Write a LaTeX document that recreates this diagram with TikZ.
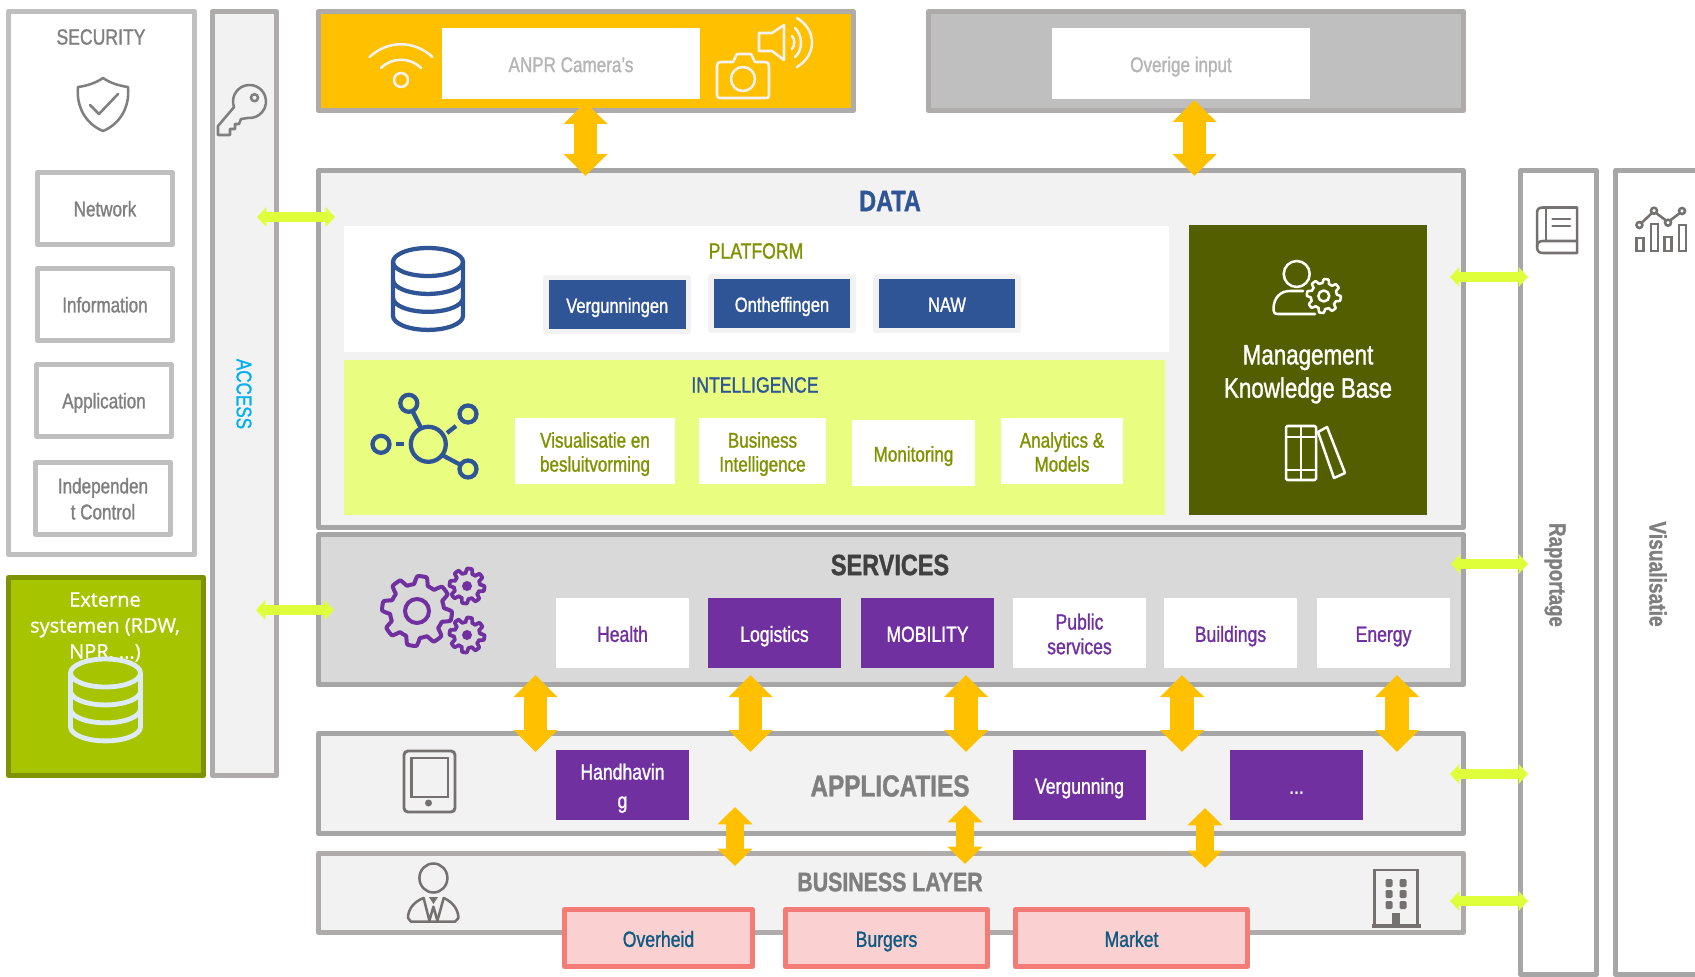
\documentclass[tikz,border=0pt]{standalone}
\usepackage{fontspec}
\usetikzlibrary{arrows.meta}
\setmainfont{Liberation Sans}[FakeStretch=0.8,FakeBold=1.2]
\newfontfamily\extfont{Open Sans}[FakeBold=1]
\definecolor{cBorder}{HTML}{A6A6A6}
\definecolor{cBorderW}{HTML}{AFABAB}
\definecolor{cSec}{HTML}{BFBFBF}
\definecolor{cSecT}{HTML}{B5B5B5}
\definecolor{cPanel}{HTML}{F2F2F2}
\definecolor{cServ}{HTML}{D9D9D9}
\definecolor{cAmber}{HTML}{FFC000}
\definecolor{cLime}{HTML}{DFFF3A}
\definecolor{cBlue}{HTML}{2F5597}
\definecolor{cPurple}{HTML}{7030A0}
\definecolor{cOlive}{HTML}{7F9300}
\definecolor{cDark}{HTML}{525E00}
\definecolor{cPale}{HTML}{E9FE80}
\definecolor{cExt}{HTML}{A6C400}
\definecolor{cExtB}{HTML}{7F9300}
\definecolor{cIcon}{HTML}{767171}
\definecolor{cGrayT}{HTML}{7F7F7F}
\definecolor{cSalB}{HTML}{F47C76}
\definecolor{cSal}{HTML}{FAD1D0}
\definecolor{cTeal}{HTML}{0F5A82}
\definecolor{cDB}{HTML}{DEEBF7}
\definecolor{cSky}{HTML}{00B0F0}
\tikzset{
  base/.style={inner sep=0pt,outer sep=0pt,align=center,line join=round},
  sz/.style 2 args={font=\fontsize{#1}{#2}\selectfont},
  panel/.style={base,draw=#1,line width=3.75pt},
  secbox/.style={panel=cSec,fill=white,text=cGrayT,sz={16}{19.5}},
  whitebox/.style={base,fill=white},
  bluebtn/.style={base,fill=cBlue,draw=cPanel,line width=4pt,text=white,sz={15.5}{18}},
  intbtn/.style={base,fill=white,text=cOlive,sz={16}{18}},
  purplebtn/.style={base,fill=cPurple,text=white,sz={16.5}{20}},
  whitebtn/.style={base,fill=white,text=cPurple,sz={16.5}{18.5}},
  salbtn/.style={panel=cSalB,fill=cSal,text=cTeal,sz={16.5}{20}},
  title/.style={base},
  amberbig/.style={draw=cAmber,line width=17.5pt,{Triangle[length=16.5pt,width=32pt]}-{Triangle[length=16.5pt,width=32pt]}},
  ambersmall/.style={draw=cAmber,line width=13pt,{Triangle[length=13pt,width=25.5pt]}-{Triangle[length=13pt,width=25.5pt]}},
  limearrow/.style={draw=cLime,line width=7.5pt,{Triangle[length=7pt,width=14.5pt]}-{Triangle[length=7pt,width=14.5pt]}},
  iconline/.style={line width=1.9pt,line join=round,line cap=round},
}
\newcommand\bx[7][]{\node[#1,minimum width={(#5-#3)*0.75pt},minimum height={(#6-#4)*0.75pt}] (#2) at ({(#3+#5)/2},{(#4+#6)/2}) {#7};}
% one line of text centred on its capitals, ignoring descenders
\newcommand\ls[1]{\smash{#1}\rule{0pt}{\dimexpr.72em+1.4pt\relax}}
\newcommand\lz[1]{\smash{#1}\rule{0pt}{\dimexpr.72em+.3pt\relax}}
% database icon: colour, width in pt, centre x, top y, half width, ring height, fill
\newcommand\dbicon[7]{%
  \begin{scope}[shift={(#3,#4)},draw=#1,line width=#2]
    \draw[fill=#7] (0,0) ellipse[x radius=#5,y radius=#6];
    \draw (-#5,0) -- (-#5,#6*3.85) arc[start angle=180,end angle=0,x radius=#5,y radius=#6] -- (#5,0);
    \draw (-#5,#6*1.28) arc[start angle=180,end angle=0,x radius=#5,y radius=#6];
    \draw (-#5,#6*2.56) arc[start angle=180,end angle=0,x radius=#5,y radius=#6];
  \end{scope}}
% gear: colour, width, x, y, outer r, inner r
\newcommand\gearicon[6]{%
  \draw[#1,line width=#2,line join=round] plot[domain=0:360,samples=193,shift={(#3,#4)}] (\x:{#6+(#5-#6)*(0.5+0.5*max(-1,min(1,2.2*sin(8*\x+22))))}) -- cycle;}
\begin{document}
\begin{tikzpicture}[x=0.75pt,y=-0.75pt]
\useasboundingbox (0,0) rectangle (1695,977);
% left column
\bx[panel=cSec]{security}{8.5}{11.5}{194.5}{554.5}{}
\node[title,text=cGrayT,sz={16.5}{20}] (sectitle) at (101,37) {SECURITY};
\bx[secbox]{network}{37.5}{172.5}{172.5}{244.5}{\lz{Network}}
\bx[secbox]{information}{37.5}{268.5}{172.5}{340.5}{\lz{Information}}
\bx[secbox]{application}{36.5}{364.5}{171.5}{436.5}{\lz{Application}}
\bx[secbox]{independent}{35.5}{462.5}{170.5}{534.5}{\lz{Independen}\\\lz{t Control}}
\bx[panel=cExtB,fill=cExt]{externe}{8.5}{577.5}{203.5}{775.5}{}
\node[base,text=white,font=\extfont\fontsize{15}{19.5}\selectfont] (extlabel) at (105,627) {Externe\\systemen (RDW,\\NPR, ...)};
\bx[panel=cBorderW,fill=cPanel]{access}{212.5}{11.5}{276.5}{775.5}{}
\node[title,rotate=-90,text=cSky,sz={16}{20}] (acctitle) at (244,394) {ACCESS};
% top row
\bx[panel=cBorderW,fill=cAmber]{anpr}{318.5}{11.5}{853.5}{110.5}{}
\bx[whitebox,text=cSecT,sz={16}{20}]{anprtext}{442}{28}{700}{99}{\ls{ANPR Camera’s}}
\bx[panel=cBorderW,fill=cSec]{overige}{928.5}{11.5}{1463.5}{110.5}{}
\bx[whitebox,text=cSecT,sz={16}{20}]{overtext}{1052}{28}{1310}{99}{\ls{Overige input}}
% right columns
\bx[panel=cBorder,fill=white]{rapport}{1520.5}{170.5}{1596.5}{974.5}{}
\node[title,rotate=-90,text=cGrayT,sz={17.5}{20}] (raptitle) at (1555,575) {\bfseries Rapportage};
\bx[panel=cBorder,fill=white]{visual}{1615.5}{170.5}{1740}{974.5}{}
\node[title,rotate=-90,text=cGrayT,sz={18}{20}] (vistitle) at (1658,574) {\bfseries Visualisatie};
% data
\bx[panel=cBorder,fill=cPanel]{data}{318.5}{170.5}{1463.5}{527.5}{}
\node[title,text=cBlue,sz={22}{24}] (datatitle) at (890,201) {\bfseries DATA};
\bx[whitebox]{platform}{344}{226}{1169}{352}{}
\node[title,text=cOlive,sz={16.5}{20}] (plattitle) at (756,251) {PLATFORM};
\bx[bluebtn]{verg}{546}{277.5}{688.5}{331.5}{\ls{Vergunningen}}
\bx[bluebtn]{onth}{711}{276.5}{853}{330.5}{\ls{Ontheffingen}}
\bx[bluebtn]{naw}{876}{276.5}{1018}{330.5}{\ls{NAW}}
\bx[base,fill=cPale]{intel}{344}{360}{1165}{515}{}
\node[title,text=cBlue,sz={16.5}{20}] (inttitle) at (755,385) {INTELLIGENCE};
\bx[intbtn]{visbtn}{515}{418}{675}{484}{\ls{Visualisatie en}\\\ls{besluitvorming}}
\bx[intbtn]{bibtn}{699}{418}{826}{484}{\ls{Business}\\\ls{Intelligence}}
\bx[intbtn]{monbtn}{852}{420}{975}{486}{\ls{Monitoring}}
\bx[intbtn]{anabtn}{1001}{418}{1123}{484}{\ls{Analytics \&}\\\ls{Models}}
\bx[base,fill=cDark,text=white,sz={21}{25}]{mgmt}{1189}{225}{1427}{515}{\ls{Management}\\\ls{Knowledge Base}}
% services
\bx[panel=cBorder,fill=cServ]{services}{318.5}{534.5}{1463.5}{684.5}{}
\node[title,text=black!75,sz={22}{24}] (servtitle) at (890,565) {\bfseries SERVICES};
\bx[whitebtn]{health}{556}{598}{689}{668}{\ls{Health}}
\bx[purplebtn]{logistics}{708}{598}{841}{668}{\ls{Logistics}}
\bx[purplebtn]{mobility}{861}{598}{994}{668}{\ls{MOBILITY}}
\bx[whitebtn]{public}{1013}{598}{1146}{668}{\ls{Public}\\\ls{services}}
\bx[whitebtn]{buildings}{1164}{598}{1297}{668}{\ls{Buildings}}
\bx[whitebtn]{energy}{1317}{598}{1450}{668}{\ls{Energy}}
% applications
\bx[panel=cBorder,fill=cPanel]{apps}{318.5}{733.5}{1463.5}{833.5}{}
\node[title,text=cGrayT,sz={22.8}{26}] (apptitle) at (890,786) {\bfseries APPLICATIES};
\bx[purplebtn,sz={16.5}{21.5}]{handh}{556}{750}{689}{820}{\ls{Handhavin}\\\ls{g}}
\bx[purplebtn]{vergapp}{1013}{750}{1146}{820}{\ls{Vergunning}}
\bx[purplebtn]{dots}{1230}{750}{1363}{820}{\ls{...}}
% business
\bx[panel=cBorderW,fill=cPanel]{business}{318.5}{853.5}{1463.5}{932.5}{}
\node[title,text=cGrayT,sz={20}{26}] (bustitle) at (890,882) {\bfseries BUSINESS LAYER};
\bx[salbtn]{overheid}{564.5}{909.5}{752.5}{966.5}{\ls{Overheid}}
\bx[salbtn]{burgers}{785.5}{909.5}{987.5}{966.5}{\ls{Burgers}}
\bx[salbtn]{market}{1015.5}{909.5}{1247.5}{966.5}{\ls{Market}}
% icons: security shield
\draw[cGrayT,iconline] (103,78) .. controls (110,83) and (120,86) .. (128,87) .. controls (130,107) and (120,124) .. (103,131) .. controls (86,124) and (76,107) .. (78,87) .. controls (86,86) and (96,83) .. (103,78) -- cycle;
\draw[cGrayT,iconline] (90,105) -- (99,114) -- (118,94);
% key
\draw[cGrayT,iconline] ([shift={(160:16.5)}]249.5,101.5) arc[start angle=160,end angle=455,radius=16.5] -- (241,119) -- (239,124) -- (235,124) -- (235,129) -- (230,129) -- (230,135) -- (218,135) -- (218,126) -- cycle;
\draw[cGrayT,line width=1.9pt] (254.5,97.7) circle[radius=3.5];
% wifi
\draw[cPanel,iconline] (369.5,57) .. controls (388,40) and (414,40) .. (432.5,57);
\draw[cPanel,iconline] (381,68) .. controls (392,57) and (410,57) .. (421,68);
\draw[cPanel,iconline] (401,80) circle[radius=7];
% camera
\draw[cPanel,iconline] (721,62) -- (733,62) -- (737,54) -- (751,54) -- (755,62) -- (765,62) .. controls (768,62) and (769,63) .. (769,66) -- (769,95) .. controls (769,98) and (768,98) .. (765,98) -- (721,98) .. controls (718,98) and (717,98) .. (717,95) -- (717,66) .. controls (717,63) and (718,62) .. (721,62) -- cycle;
\draw[cPanel,iconline] (743,79) circle[radius=12];
% speaker
\draw[cPanel,iconline] (759,33) -- (772,33) -- (784,25) -- (784,60) -- (772,51) -- (759,51) -- cycle;
\draw[cPanel,iconline] (792,36) .. controls (795,39) and (795,46) .. (792,49);
\draw[cPanel,iconline] (795,28) .. controls (803,36) and (803,50) .. (795,57);
\draw[cPanel,iconline] (797,18) .. controls (817,30) and (817,55) .. (797,67);
% databases
\dbicon{cBlue}{3.2pt}{428}{262}{35}{14}{none}
\dbicon{cDB}{3.6pt}{105.5}{673}{35}{14}{cExt}
% network icon
\begin{scope}[cBlue,line width=3.2pt]
\draw (428.3,444.3) circle[radius=17.5];
\draw (408.8,403.3) circle[radius=8.5];
\draw (468,414) circle[radius=8.5];
\draw (381,444.3) circle[radius=8.5];
\draw (468,469) circle[radius=8.5];
\draw (412.5,411) -- (421,428);
\draw (447,433) -- (456,426);
\draw (396,444.3) -- (404,444.3);
\draw (442,455) -- (459,464);
\end{scope}
% management icon
\draw[white,iconline] (1296.7,274) circle[radius=13];
\draw[white,iconline] (1315,314) -- (1278,314) .. controls (1274,314) and (1273.5,312) .. (1273.5,308) .. controls (1274,298) and (1280,291) .. (1290,291) -- (1303,291);
\gearicon{white}{1.9pt}{1323.8}{296}{17}{13}
\draw[white,iconline] (1323.8,296) circle[radius=5.5];
% books
\draw[white,iconline,rounded corners=1pt] (1286,426) rectangle (1316,480);
\draw[white,iconline] (1301,426) -- (1301,480) (1286,437) -- (1316,437) (1286,470) -- (1316,470);
\draw[white,iconline] (1318,432) -- (1327,427) -- (1345,473) -- (1334,478) -- cycle;
% gears
\gearicon{cPurple}{3pt}{417}{611}{35}{27}
\draw[cPurple,line width=3pt] (417,611) circle[radius=12];
\gearicon{cPurple}{2.8pt}{467}{586}{17.5}{13}
\fill[cPurple] (467,586) circle[radius=5];
\gearicon{cPurple}{2.8pt}{467}{635}{17.5}{13}
\fill[cPurple] (467,635) circle[radius=5];
% tablet
\draw[cIcon,line width=2.2pt,rounded corners=3pt] (404,751) rectangle (455,812);
\draw[cIcon,line width=2.2pt] (411.5,758) rectangle (448,797);
\fill[cIcon] (428.5,803) circle[radius=3.5];
% person
\draw[cIcon,iconline] (433.4,878) ellipse[x radius=14,y radius=14.5];
\draw[cIcon,iconline] (423.6,898) .. controls (413,902) and (408,910) .. (408,918) -- (411,921.7) -- (455,921.7) -- (458.4,918) .. controls (458.4,910) and (453,902) .. (443.7,898);
\draw[cIcon,iconline] (423.6,898) -- (429.4,920.7) -- (433.4,906.7) -- (437.4,920.7) -- (443.7,898);
\fill[cIcon] (429,897) -- (438,897) -- (433.4,904) -- cycle;
% building
\draw[cIcon,line width=2.2pt] (1374.5,925) -- (1374.5,870) -- (1417.5,870) -- (1417.5,925);
\draw[cIcon,line width=3pt] (1371.5,926) -- (1421,926);
\foreach \wy in {883,894,905} \foreach \wx in {1389,1403} \fill[cIcon,rounded corners=1pt] (\wx-3.5,\wy-4) rectangle (\wx+3.5,\wy+4);
\fill[cIcon] (1392,913) rectangle (1400,926);
% report book
\draw[cIcon,iconline] (1577,207.5) -- (1543,207.5) .. controls (1539,207.5) and (1537,209) .. (1537,213) -- (1537,247) .. controls (1537,251) and (1539,253) .. (1543,253) -- (1577,253) -- (1577,207.5);
\draw[cIcon,iconline] (1577,241) -- (1543,241) .. controls (1539,241) and (1537,243) .. (1537,247);
\draw[cIcon,iconline] (1546,207.5) -- (1546,241);
\draw[cIcon,iconline] (1552.5,219) -- (1570,219) (1552.5,226) -- (1570,226);
% chart
\draw[cIcon,line width=1.9pt] (1636.6,238) rectangle (1643.6,251) (1651,224) rectangle (1658,251) (1664.4,237) rectangle (1671.4,251) (1679,225) rectangle (1686,251);
\draw[cIcon,line width=1.9pt] (1641.5,223) -- (1652,213) (1656,213) -- (1666,220.5) (1670,220.5) -- (1680,213);
\draw[cIcon,line width=1.9pt] (1639.4,225) circle[radius=3] (1654,210.7) circle[radius=3] (1668,222.7) circle[radius=3] (1682,211) circle[radius=3];
% connector ends
\coordinate (a1t) at (585.5,102); \coordinate (a1b) at (585.5,176);
\coordinate (a2t) at (1194.5,100); \coordinate (a2b) at (1194.5,176);
\foreach \n/\cx in {1/535.5,2/750.5,3/966,4/1182,5/1397} {
  \coordinate (s\n t) at (\cx,675); \coordinate (s\n b) at (\cx,752);
}
\coordinate (b1t) at (735,807); \coordinate (b1b) at (735,866);
\coordinate (b2t) at (965,805); \coordinate (b2b) at (965,864);
\coordinate (b3t) at (1205,808); \coordinate (b3b) at (1205,868);
\coordinate (l1a) at (257,217); \coordinate (l1b) at (335,217);
\coordinate (l2a) at (256,610); \coordinate (l2b) at (334,610);
\coordinate (r1a) at (1450,277); \coordinate (r1b) at (1528,277);
\coordinate (r2a) at (1451,564); \coordinate (r2b) at (1528,564);
\coordinate (r3a) at (1450,774); \coordinate (r3b) at (1528,774);
\coordinate (r4a) at (1450,901); \coordinate (r4b) at (1528,901);
% connectors
\draw[amberbig] (a1t) -- (a1b);
\draw[amberbig] (a2t) -- (a2b);
\foreach \n in {1,...,5} \draw[amberbig] (s\n t) -- (s\n b);
\draw[ambersmall] (b1t) -- (b1b);
\draw[ambersmall] (b2t) -- (b2b);
\draw[ambersmall] (b3t) -- (b3b);
\foreach \p in {l1,l2,r1,r2,r3,r4} \draw[limearrow] (\p a) -- (\p b);
\end{tikzpicture}
\end{document}
